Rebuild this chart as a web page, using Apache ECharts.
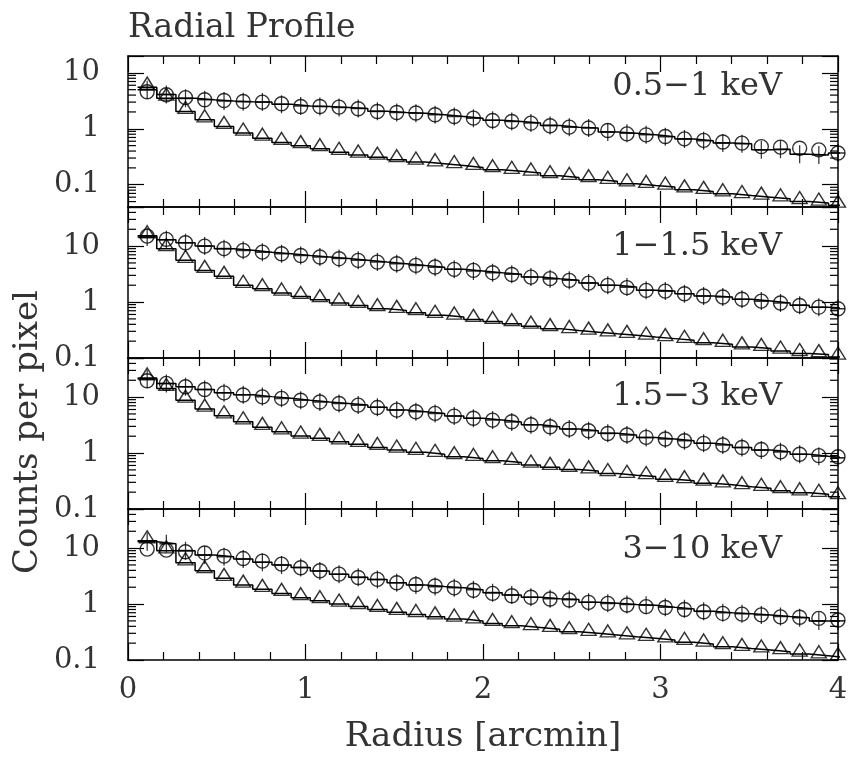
<!DOCTYPE html>
<html><head><meta charset="utf-8">
<script src="https://cdn.jsdelivr.net/npm/echarts@6/dist/echarts.min.js"></script>
<style>html,body{margin:0;padding:0;background:#fff}#c{width:851px;height:758px}</style>
</head><body><div id="c"></div>
<script>
// ---- data ----
const radius = [0.108,0.216,0.324,0.432,0.541,0.649,0.757,0.865,0.973,1.081,1.189,1.297,1.405,1.514,1.622,1.730,1.838,1.946,2.054,2.162,2.270,2.378,2.486,2.595,2.703,2.811,2.919,3.027,3.135,3.243,3.351,3.459,3.568,3.676,3.784,3.892,4.000];
const bandLabels = ['0.5\u22121 keV','1\u22121.5 keV','1.5\u22123 keV','3\u221210 keV'];
const yMinByPanel = [0.04, 0.1, 0.1, 0.1];
const yMaxByPanel = [20, 50, 50, 50];

const circ1  = [4.6,4.05,3.6,3.3,3.2,3.07,3.0,2.8,2.5,2.5,2.44,2.28,2.04,1.95,1.91,1.78,1.66,1.55,1.41,1.35,1.26,1.13,1.07,1.03,0.93,0.81,0.78,0.73,0.66,0.62,0.58,0.555,0.48,0.47,0.45,0.42,0.37];
const cross1 = [5.0,4.1,3.5,3.3,3.15,3.05,3.0,2.75,2.55,2.5,2.4,2.3,2.05,1.95,1.9,1.78,1.66,1.55,1.42,1.35,1.27,1.15,1.07,1.03,0.88,0.83,0.78,0.72,0.66,0.61,0.56,0.54,0.42,0.43,0.35,0.34,0.37];
const tri1   = [5.55,3.53,2.04,1.45,1.10,0.84,0.68,0.57,0.50,0.44,0.38,0.34,0.31,0.28,0.254,0.237,0.22,0.204,0.186,0.174,0.162,0.145,0.135,0.123,0.115,0.104,0.097,0.091,0.081,0.076,0.069,0.064,0.060,0.056,0.050,0.047,0.043];

const circ2  = [15.1,13.2,11.5,10.0,9.0,8.4,7.8,7.3,6.8,6.4,5.96,5.56,5.18,4.85,4.52,4.22,3.84,3.68,3.35,3.1,2.79,2.62,2.44,2.18,1.99,1.81,1.62,1.57,1.41,1.28,1.23,1.12,1.04,0.96,0.87,0.81,0.76];
const cross2 = [14.5,13.0,11.5,10.0,9.0,8.4,7.8,7.3,6.8,6.4,6.0,5.6,5.2,4.85,4.5,4.2,3.85,3.6,3.35,3.15,2.8,2.6,2.45,2.2,2.0,1.85,1.62,1.57,1.41,1.28,1.23,1.12,1.04,0.96,0.88,0.81,0.76];
const tri2   = [15.3,9.0,5.56,3.68,2.88,1.99,1.73,1.45,1.26,1.10,0.96,0.87,0.76,0.71,0.645,0.58,0.54,0.49,0.45,0.41,0.37,0.335,0.31,0.29,0.27,0.254,0.237,0.222,0.207,0.188,0.176,0.158,0.148,0.133,0.12,0.115,0.104];

const circ3  = [19.6,17.6,15.3,13.7,11.9,10.9,10.1,9.5,8.8,8.2,7.7,7.2,6.5,5.86,5.47,5.12,4.58,4.2,3.88,3.62,3.2,2.95,2.68,2.50,2.24,2.10,1.91,1.78,1.66,1.49,1.39,1.26,1.16,1.05,0.95,0.90,0.86];
const cross3 = [21,17.5,15.3,13.7,12.0,11.0,10.2,9.5,8.8,8.2,7.7,7.2,6.6,5.9,5.5,5.1,4.6,4.2,3.9,3.6,3.2,2.95,2.7,2.5,2.25,2.1,1.9,1.78,1.66,1.5,1.39,1.26,1.13,1.05,0.95,0.88,0.82];
const tri3   = [22,14.3,8.8,6.1,4.63,3.62,2.88,2.40,2.01,1.83,1.59,1.43,1.26,1.13,1.03,0.95,0.86,0.80,0.73,0.68,0.61,0.555,0.51,0.48,0.43,0.40,0.38,0.34,0.32,0.29,0.27,0.25,0.234,0.212,0.195,0.183,0.166];

const circ4  = [9.6,9.2,8.6,8.2,7.2,6.5,5.86,5.18,4.45,3.94,3.43,2.99,2.76,2.40,2.24,2.1,1.95,1.76,1.55,1.41,1.32,1.23,1.18,1.07,1.03,0.96,0.90,0.87,0.80,0.73,0.68,0.66,0.64,0.59,0.58,0.555,0.52];
const cross4 = [13.0,12.0,9.0,7.5,7.0,6.4,5.6,5.0,4.5,3.9,3.4,3.0,2.75,2.4,2.2,2.05,1.95,1.8,1.6,1.45,1.32,1.25,1.2,1.08,1.03,0.98,0.95,0.88,0.82,0.74,0.70,0.67,0.64,0.60,0.57,0.50,0.50];
const tri4   = [13.5,8.95,5.47,3.94,2.88,2.18,1.83,1.55,1.30,1.15,1.0,0.90,0.80,0.71,0.65,0.59,0.54,0.50,0.45,0.41,0.38,0.353,0.32,0.30,0.28,0.26,0.244,0.228,0.207,0.193,0.173,0.161,0.151,0.141,0.128,0.119,0.110];

const circles = [circ1, circ2, circ3, circ4];
const crosses = [cross1, cross2, cross3, cross4];
const triangles = [tri1, tri2, tri3, tri4];

// ---- helpers ----
const FONT = '"DejaVu Serif", "Liberation Serif", serif';
const INK = '#000';
const TXT = '#333';

function pairs(vals){ return vals.map((v,i)=>[radius[i], v]); }
function stepData(vals){
  const n = radius.length, out = [];
  for (let i=0;i<n;i++){
    const lo = i===0 ? radius[0]-(radius[1]-radius[0])/2 : (radius[i-1]+radius[i])/2;
    const hi = i===n-1 ? radius[n-1]+(radius[n-1]-radius[n-2])/2 : (radius[i]+radius[i+1])/2;
    out.push([lo, vals[i]], [hi, vals[i]]);
  }
  return out;
}
function minorLogTicks(min, max){
  const out = [];
  for (let d=Math.floor(Math.log10(min)); d<=Math.ceil(Math.log10(max)); d++){
    for (let m=2;m<=9;m++){
      const v = m*Math.pow(10,d);
      if (v>min*1.0001 && v<max*0.9999) out.push([0, v]);
    }
  }
  return out;
}
function logLabel(v){
  const lg = Math.log10(v);
  if (!isFinite(lg) || Math.abs(lg-Math.round(lg))>1e-6) return '';
  return String(parseFloat(v.toPrecision(3)));
}

const grids=[], xAxes=[], yAxes=[], series=[];
const axisLine = {onZero:false, lineStyle:{color:INK, width:1.5}};
for (let k=0;k<4;k++){
  grids.push({left:128, width:710, top:56+k*151, height:151, containLabel:false});
  const xBase = {
    gridIndex:k, type:'value', min:0, max:4, interval:1,
    axisLine, splitLine:{show:false},
    axisTick:{show:true, inside:true, length:16, lineStyle:{color:INK, width:1.2}},
    minorTick:{show:true, splitNumber:5, length:8, lineStyle:{color:INK, width:1.2}}
  };
  xAxes.push(Object.assign({}, xBase, {position:'bottom',
    axisLabel:{show:k===3, margin:16, fontSize:29, fontFamily:FONT, color:TXT}}));
  xAxes.push(Object.assign({}, xBase, {position:'top', axisLabel:{show:false}}));
  const yBase = {
    gridIndex:k, type:'log', logBase:10, min:yMinByPanel[k], max:yMaxByPanel[k],
    axisLine, splitLine:{show:false}, minorTick:{show:false},
    axisTick:{show:true, inside:true, length:16, lineStyle:{color:INK, width:1.2}}
  };
  yAxes.push(Object.assign({}, yBase, {position:'left',
    axisLabel:{show:true, margin:28, fontSize:29, fontFamily:FONT, color:TXT, formatter:logLabel}}));
  yAxes.push(Object.assign({}, yBase, {position:'right', axisLabel:{show:false}}));

  const xi = 2*k, yi = 2*k;
  series.push({type:'custom', xAxisIndex:xi, yAxisIndex:yi, silent:true, z:1,
    data:minorLogTicks(yMinByPanel[k], yMaxByPanel[k]),
    renderItem:function(params, api){
      const cs = params.coordSys;
      const y = api.coord([api.value(0), api.value(1)])[1];
      const st = {stroke:INK, lineWidth:1.2};
      return {type:'group', children:[
        {type:'line', shape:{x1:cs.x, y1:y, x2:cs.x+8, y2:y}, style:st},
        {type:'line', shape:{x1:cs.x+cs.width, y1:y, x2:cs.x+cs.width-8, y2:y}, style:st}
      ]};
    }});
  series.push({type:'line', xAxisIndex:xi, yAxisIndex:yi, data:stepData(crosses[k]),
    symbol:'none', lineStyle:{color:INK, width:1.5}, silent:true, z:2});
  series.push({type:'line', xAxisIndex:xi, yAxisIndex:yi, data:stepData(triangles[k]),
    symbol:'none', lineStyle:{color:INK, width:1.5}, silent:true, z:2});
  series.push({type:'scatter', xAxisIndex:xi, yAxisIndex:yi, data:pairs(circles[k]),
    symbol:'circle', symbolSize:14, silent:true, z:3,
    itemStyle:{color:'rgba(0,0,0,0)', borderColor:INK, borderWidth:1.4}});
  series.push({type:'scatter', xAxisIndex:xi, yAxisIndex:yi, data:pairs(crosses[k]),
    symbol:'path://M10,0L10,20M0,10L20,10', symbolSize:[14,18], symbolKeepAspect:false, silent:true, z:3,
    itemStyle:{color:'none', borderColor:INK, borderWidth:1.4}});
  series.push({type:'scatter', xAxisIndex:xi, yAxisIndex:yi, data:pairs(triangles[k]),
    symbol:'triangle', symbolSize:[15,12], symbolOffset:[0,-4], silent:true, z:3,
    itemStyle:{color:'rgba(0,0,0,0)', borderColor:INK, borderWidth:1.4}});
}

function txt(text, x, y, size, align, extra){
  return Object.assign({type:'text', x:x, y:y, silent:true, z:10,
    style:{text:text, font:size+'px '+FONT, fill:TXT, align:align, textAlign:align,
      verticalAlign:'middle', textVerticalAlign:'middle'}}, extra||{});
}
const labelY = [87, 247, 397, 550];
const graphics = [
  txt('Radial Profile', 128, 28, 33, 'left'),
  txt('Radius [arcmin]', 483, 737, 34, 'center'),
  txt('Counts per pixel', 28, 432, 34, 'center', {rotation:Math.PI/2})
];
for (let k=0;k<4;k++) graphics.push(txt(bandLabels[k], 782, labelY[k], 32, 'right'));

const chart = echarts.init(document.getElementById('c'), null, {renderer:'canvas'});
chart.setOption({
  backgroundColor:'#fff', animation:false,
  grid:grids, xAxis:xAxes, yAxis:yAxes, series:series, graphic:graphics
});
</script></body></html>
